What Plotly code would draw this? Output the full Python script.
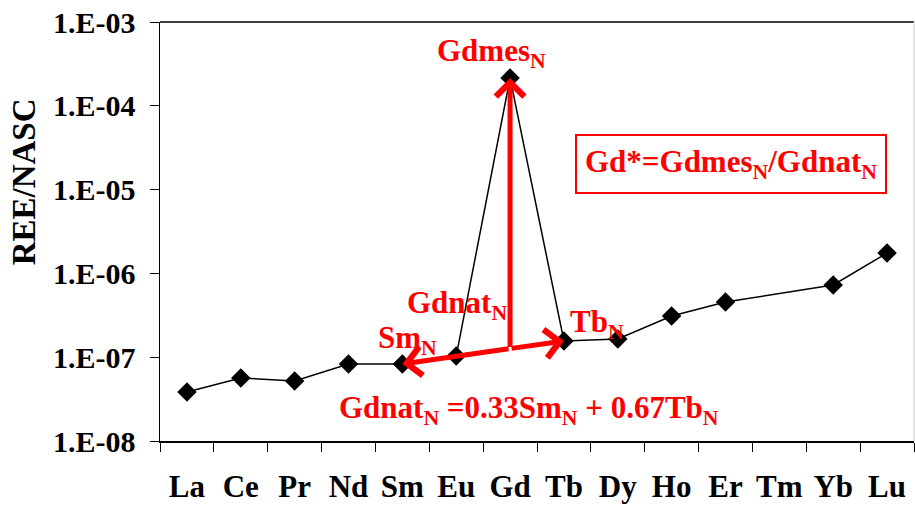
import math
import plotly.graph_objects as go

elements = ["La", "Ce", "Pr", "Nd", "Sm", "Eu", "Gd", "Tb", "Dy", "Ho", "Er", "Tm", "Yb", "Lu"]
ree_nasc = [3.85e-8, 5.65e-8, 5.2e-8, 8.3e-8, 8.3e-8, 1.03e-7, 2.15e-4, 1.56e-7, 1.65e-7,
            3.1e-7, 4.56e-7, None, 7.27e-7, 1.75e-6]
y_tick_vals = [1e-8, 1e-7, 1e-6, 1e-5, 1e-4, 1e-3]
y_tick_text = ["1.E-08", "1.E-07", "1.E-06", "1.E-05", "1.E-04", "1.E-03"]

FONT = "Liberation Serif"
RED = "#ff0000"

i_sm = elements.index("Sm")
i_gd = elements.index("Gd")
i_tb = elements.index("Tb")
log_sm = math.log10(ree_nasc[i_sm])
log_tb = math.log10(ree_nasc[i_tb])
log_gd = math.log10(ree_nasc[i_gd])
log_gdnat = 0.33 * log_sm + 0.67 * log_tb

fig = go.Figure()
fig.add_trace(go.Scatter(
    x=elements, y=ree_nasc, mode="lines+markers", connectgaps=True,
    line=dict(color="black", width=1.5),
    marker=dict(symbol="diamond", size=15, color="black"),
    showlegend=False, cliponaxis=False, hoverinfo="skip",
))

arrow_common = dict(xref="x", yref="y", axref="x", ayref="y", text="", showarrow=True,
                    arrowhead=4, arrowsize=1.1, arrowwidth=5, arrowcolor=RED)
annotations = [
    dict(x=i_gd, y=log_gd, ax=i_gd, ay=log_gdnat, **arrow_common),
    dict(x=i_sm, y=log_sm, ax=i_gd, ay=log_gdnat, **arrow_common),
    dict(x=i_tb, y=log_tb, ax=i_gd, ay=log_gdnat, **arrow_common),
]

tf = dict(family=FONT, size=31, color=RED, weight="bold")
def lab(text, x, y, **kw):
    d = dict(text=text, x=x, y=y, xref="paper", yref="paper", showarrow=False,
             xanchor="center", yanchor="middle", font=tf)
    d.update(kw)
    return d

annotations += [
    lab("Gdmes<sub>N</sub>", 0.44, 0.925),
    lab("Gd*=Gdmes<sub>N</sub>/Gdnat<sub>N</sub>", 0.757, 0.661,
        bordercolor=RED, borderwidth=2, borderpad=8, bgcolor="white"),
    lab("Gdnat<sub>N</sub>", 0.394, 0.325),
    lab("Sm<sub>N</sub>", 0.328, 0.241),
    lab("Tb<sub>N</sub>", 0.58, 0.279),
    lab("Gdnat<sub>N</sub> =0.33Sm<sub>N</sub> + 0.67Tb<sub>N</sub>", 0.49, 0.074),
    # y-axis title (placed as in the reference, above the plot's centre)
    dict(text="REE/NASC", x=-0.180, y=0.618, xref="paper", yref="paper", showarrow=False,
         xanchor="center", yanchor="middle", textangle=-90,
         font=dict(family=FONT, size=33, color="black", weight="bold")),
]

fig.update_layout(
    width=915, height=506,
    margin=dict(l=160, r=1, t=22, b=65),
    paper_bgcolor="white", plot_bgcolor="white",
    annotations=annotations,
    shapes=[
        dict(type="line", xref="paper", yref="paper", x0=0, x1=1, y0=1, y1=1,
             line=dict(color="black", width=1.5)),
        dict(type="line", xref="paper", yref="paper", x0=1, x1=1, y0=0, y1=1,
             line=dict(color="#cccccc", width=1)),
    ],
    xaxis=dict(
        type="category", categoryorder="array", categoryarray=elements,
        range=[-0.5, len(elements) - 0.5], automargin=False, tickangle=0,
        showline=True, linecolor="black", linewidth=1.5,
        ticks="outside", tickson="boundaries", ticklen=9, tickcolor="black",
        tickfont=dict(family=FONT, size=31, color="black", weight="bold"),
        ticklabelstandoff=17,
        showgrid=False, zeroline=False,
    ),
    yaxis=dict(
        type="log", range=[-8, -3], automargin=False,
        tickvals=y_tick_vals, ticktext=y_tick_text,
        showline=True, linecolor="black", linewidth=1.5,
        ticks="outside", ticklen=9, tickcolor="black",
        tickfont=dict(family=FONT, size=30, color="black", weight="bold"),
        ticklabelstandoff=8,
        showgrid=False, zeroline=False,
    ),
)

fig.write_html("out.html", config={"displayModeBar": False, "staticPlot": True},
               post_script="document.body.style.margin='0';document.body.style.overflow='hidden';")
